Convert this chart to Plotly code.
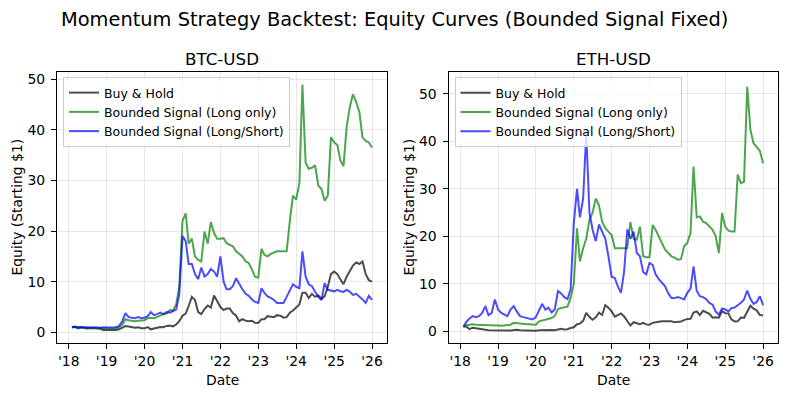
import pandas as pd
import plotly.graph_objects as go

# ---------------- data (monthly) ----------------
dates = pd.date_range("2018-02-01", periods=96, freq="MS")

btc_buy_hold = [
    1.0, 1.15, 0.8, 1.0, 0.85, 0.75, 0.85, 0.78, 0.74, 0.7, 0.45, 0.42,
    0.39, 0.43, 0.47, 0.6, 0.95, 1.25, 1.15, 1.08, 0.92, 1.02, 0.83, 0.8,
    1.05, 0.6, 0.75, 0.98, 1.06, 1.03, 1.27, 1.33, 1.18, 1.55, 2.2, 3.3,
    3.7, 5.2, 7.0, 6.4, 4.0, 3.6, 4.6, 5.3, 4.9, 7.3, 6.2, 5.0,
    4.4, 4.7, 4.7, 3.8, 3.3, 2.2, 2.6, 2.3, 2.2, 2.3, 1.9, 1.85,
    2.6, 2.6, 3.2, 3.1, 3.0, 3.4, 3.3, 2.9, 3.0, 3.9, 4.3, 4.9,
    5.5, 7.8, 7.8, 6.8, 7.6, 7.0, 7.3, 6.6, 7.1, 9.0, 11.5, 12.0,
    11.5, 10.5, 9.5, 11.0, 12.0, 13.2, 13.8, 13.5, 14.0, 11.5, 10.3, 10.0,
]
btc_long_only = [
    1.0, 1.05, 0.95, 1.0, 0.95, 0.9, 0.95, 0.9, 0.88, 0.85, 0.75, 0.7,
    0.7, 0.72, 0.8, 1.0, 1.5, 2.6, 2.4, 2.3, 2.2, 2.3, 2.3, 2.4,
    2.8, 2.9, 2.8, 3.0, 3.3, 3.6, 3.7, 4.4, 4.3, 5.5, 9.0, 22.0,
    23.5, 17.5, 18.5, 15.0, 14.3, 14.0, 19.9, 17.5, 21.8, 19.6, 18.5, 18.5,
    18.6, 17.6, 17.3, 17.0, 16.0, 15.5, 15.0, 14.0, 13.7, 12.4, 11.0, 10.8,
    16.5, 15.3, 15.0, 15.5, 15.7, 16.0, 16.0, 16.0, 16.0, 22.0, 27.0, 26.2,
    29.5, 48.9, 33.5, 32.3, 32.5, 33.0, 29.0, 28.3, 26.0, 27.0, 38.5, 37.5,
    37.0, 34.0, 32.8, 40.5, 44.5, 47.0, 45.5, 43.5, 38.5, 37.8, 37.5, 36.5,
]
btc_long_short = [
    1.0, 1.1, 1.0, 1.05, 1.0, 0.95, 1.0, 0.95, 0.95, 0.9, 1.0, 0.95,
    0.9, 0.95, 1.0, 1.3, 2.2, 3.8, 3.0, 2.9, 2.8, 3.0, 2.8, 2.9,
    3.2, 4.0, 3.4, 3.6, 3.9, 3.6, 4.0, 3.9, 4.2, 4.5, 7.5, 19.0,
    18.0, 13.5, 13.5, 11.5, 10.5, 12.8, 11.0, 11.5, 12.5, 12.0, 11.0, 15.0,
    10.0, 8.5, 8.5, 9.1, 10.7, 9.5, 8.5, 7.6, 7.2, 6.5, 6.0, 5.8,
    8.7, 7.8, 7.1, 6.8, 6.4, 5.8, 5.8, 5.8, 7.0, 8.4, 9.5, 9.0,
    8.7, 16.0, 11.0, 9.5, 9.1, 8.0, 7.0, 6.4, 9.7, 8.4, 8.3, 8.1,
    8.4, 8.1, 8.0, 8.4, 8.0, 7.4, 7.6, 7.1, 6.5, 5.8, 7.2, 6.4,
]

eth_buy_hold = [
    1.0, 1.0, 0.46, 0.77, 0.67, 0.52, 0.47, 0.33, 0.26, 0.23, 0.13, 0.16,
    0.12, 0.16, 0.16, 0.18, 0.31, 0.34, 0.25, 0.2, 0.21, 0.21, 0.17, 0.15,
    0.21, 0.25, 0.15, 0.24, 0.27, 0.26, 0.4, 0.55, 0.41, 0.44, 0.71, 0.85,
    1.51, 1.63, 2.21, 3.9, 3.02, 2.43, 2.94, 3.94, 3.45, 5.5, 5.0, 4.2,
    3.09, 3.41, 3.77, 3.14, 2.23, 1.23, 1.93, 1.78, 1.53, 1.8, 1.47, 1.38,
    1.83, 1.9, 2.09, 2.15, 2.15, 2.21, 2.14, 1.9, 1.92, 2.09, 2.36, 2.62,
    2.64, 3.94, 4.2, 3.43, 4.32, 3.94, 3.69, 2.89, 2.99, 2.89, 4.25, 3.83,
    3.79, 2.53, 2.09, 2.11, 2.91, 2.85, 4.25, 5.4, 4.76, 4.43, 3.45, 3.41,
]
eth_long_only = [
    1.0, 1.3, 1.4, 1.5, 1.4, 1.4, 1.35, 1.3, 1.3, 1.3, 1.25, 1.25,
    1.2, 1.25, 1.3, 1.4, 1.8, 1.7, 1.6, 1.5, 1.5, 1.5, 1.4, 1.4,
    2.1, 2.3, 2.5, 2.6, 2.8, 3.2, 4.7, 4.9, 5.0, 5.2, 7.0, 10.0,
    21.7, 14.7, 17.5, 19.5, 23.5, 25.0, 28.0, 26.5, 23.1, 21.7, 21.0, 20.3,
    17.5, 17.5, 17.5, 17.5, 17.5, 23.0, 19.5, 19.3, 22.0, 15.8, 15.6, 15.6,
    22.4, 21.4, 20.0, 18.5, 17.2, 16.5, 15.8, 15.5, 15.1, 15.2, 17.9, 18.6,
    20.7, 34.7, 24.0, 24.2, 23.1, 22.8, 22.0, 21.4, 20.0, 16.5, 24.9, 22.0,
    21.2, 21.0, 21.0, 33.0, 31.2, 31.5, 51.5, 42.4, 39.6, 38.9, 38.0, 35.4,
]
eth_long_short = [
    1.0, 2.0, 2.7, 3.2, 3.0, 3.2, 3.9, 5.3, 3.4, 3.9, 6.7, 4.6,
    3.9, 3.6, 3.2, 4.6, 5.3, 4.2, 3.2, 3.0, 2.8, 2.6, 2.5, 3.0,
    4.5, 5.8, 4.6, 5.0, 4.0, 4.6, 8.5, 8.0, 7.2, 6.8, 8.8, 22.8,
    30.0, 24.0, 28.0, 41.7, 25.0, 21.4, 19.0, 22.5, 21.0, 19.5, 15.8, 11.5,
    11.2, 9.5, 8.1, 12.5, 21.5, 19.5, 21.0, 16.5, 15.8, 12.5, 12.0, 14.4,
    14.0, 12.0, 11.0, 10.2, 9.5, 8.0, 7.0, 7.0, 7.2, 7.0, 6.7, 8.1,
    9.0, 13.7, 8.5, 7.4, 7.2, 6.8, 6.0, 5.6, 4.2, 3.5, 4.8, 4.6,
    4.2, 4.9, 5.0, 5.5, 6.0, 6.7, 8.6, 6.8, 5.8, 6.2, 7.4, 5.5,
]

series_names = ["Buy & Hold", "Bounded Signal (Long only)", "Bounded Signal (Long/Short)"]
series_colors = ["rgba(0,0,0,0.7)", "rgba(0,128,0,0.7)", "rgba(0,0,255,0.7)"]
panel_titles = ["BTC-USD", "ETH-USD"]
tick_vals = pd.date_range("2018-01-01", periods=9, freq="YS")
tick_text = ["'18", "'19", "'20", "'21", "'22", "'23", "'24", "'25", "'26"]

# ---------------- figure ----------------
W, H = 789, 396
FONT = "DejaVu Sans"
fig = go.Figure()

panels = [
    ([btc_buy_hold, btc_long_only, btc_long_short], "x", "y", "legend"),
    ([eth_buy_hold, eth_long_only, eth_long_short], "x2", "y2", "legend2"),
]
for vals, xa, ya, lg in panels:
    for name, color, v in zip(series_names, series_colors, vals):
        fig.add_trace(go.Scatter(
            x=dates, y=v, mode="lines", name=name, xaxis=xa, yaxis=ya,
            legend=lg, line=dict(color=color, width=2),
        ))

box_left = [(57, 387), (448.5, 778)]
top_px, bot_px = 72, 343
ydom = [1 - bot_px / H, 1 - top_px / H]
yranges = [[-2.1, 51.4], [-2.45, 54.6]]

axis_common = dict(
    showline=True, mirror=True, linecolor="black", linewidth=1,
    ticks="outside", ticklen=5, tickwidth=1, tickcolor="black",
    showgrid=True, gridcolor="rgba(176,176,176,0.3)", gridwidth=0.8,
    zeroline=False, tickfont=dict(family=FONT, size=13.9, color="black"),
    automargin=False,
)

for i, (l, r) in enumerate(box_left):
    sfx = "" if i == 0 else str(i + 1)
    fig.layout["xaxis" + sfx] = dict(
        axis_common, domain=[l / W, r / W], anchor="y" + sfx, type="date",
        range=["2017-09-10", "2026-05-25"], tickvals=list(tick_vals), ticktext=tick_text,
    )
    fig.layout["yaxis" + sfx] = dict(
        axis_common, domain=ydom, anchor="x" + sfx, range=yranges[i],
        tickvals=[0, 10, 20, 30, 40, 50], ticklabelstandoff=3,
    )

legend_common = dict(
    xanchor="left", yanchor="top", bgcolor="rgba(255,255,255,0.8)",
    bordercolor="#cccccc", borderwidth=1,
    font=dict(family=FONT, size=12.5, color="black"),
)
fig.update_layout(
    legend=dict(legend_common, x=(box_left[0][0] + 6) / W, y=1 - (top_px + 5) / H),
    legend2=dict(legend_common, x=(box_left[1][0] + 6) / W, y=1 - (top_px + 5) / H),
)

annotations = [
    dict(text="Momentum Strategy Backtest: Equity Curves (Bounded Signal Fixed)",
         x=394 / W, y=1 - 19 / H, font=dict(size=19.4)),
]
for i, (l, r) in enumerate(box_left):
    cx = (l + r) / 2
    annotations.append(dict(text=panel_titles[i], x=cx / W, y=1 - 59 / H, font=dict(size=16.7)))
    annotations.append(dict(text="Date", x=cx / W, y=1 - 380 / H, font=dict(size=13.9)))
ylab_x = [16, 408]
for xx in ylab_x:
    annotations.append(dict(text="Equity (Starting $1)", x=xx / W, y=1 - (top_px + bot_px) / 2 / H,
                            textangle=-90, font=dict(size=13.9)))
for a in annotations:
    a.update(xref="paper", yref="paper", showarrow=False, xanchor="center", yanchor="middle")
    a["font"] = dict(family=FONT, color="black", size=a["font"]["size"])

fig.update_layout(
    annotations=annotations,
    width=W, height=H,
    margin=dict(l=0, r=0, t=0, b=0),
    paper_bgcolor="white", plot_bgcolor="white",
    font=dict(family=FONT, color="black"),
    showlegend=True,
)

fig.write_html(
    "out.html",
    config={"displayModeBar": False},
    post_script="document.body.style.margin='0px';document.body.style.overflow='hidden';",
)
